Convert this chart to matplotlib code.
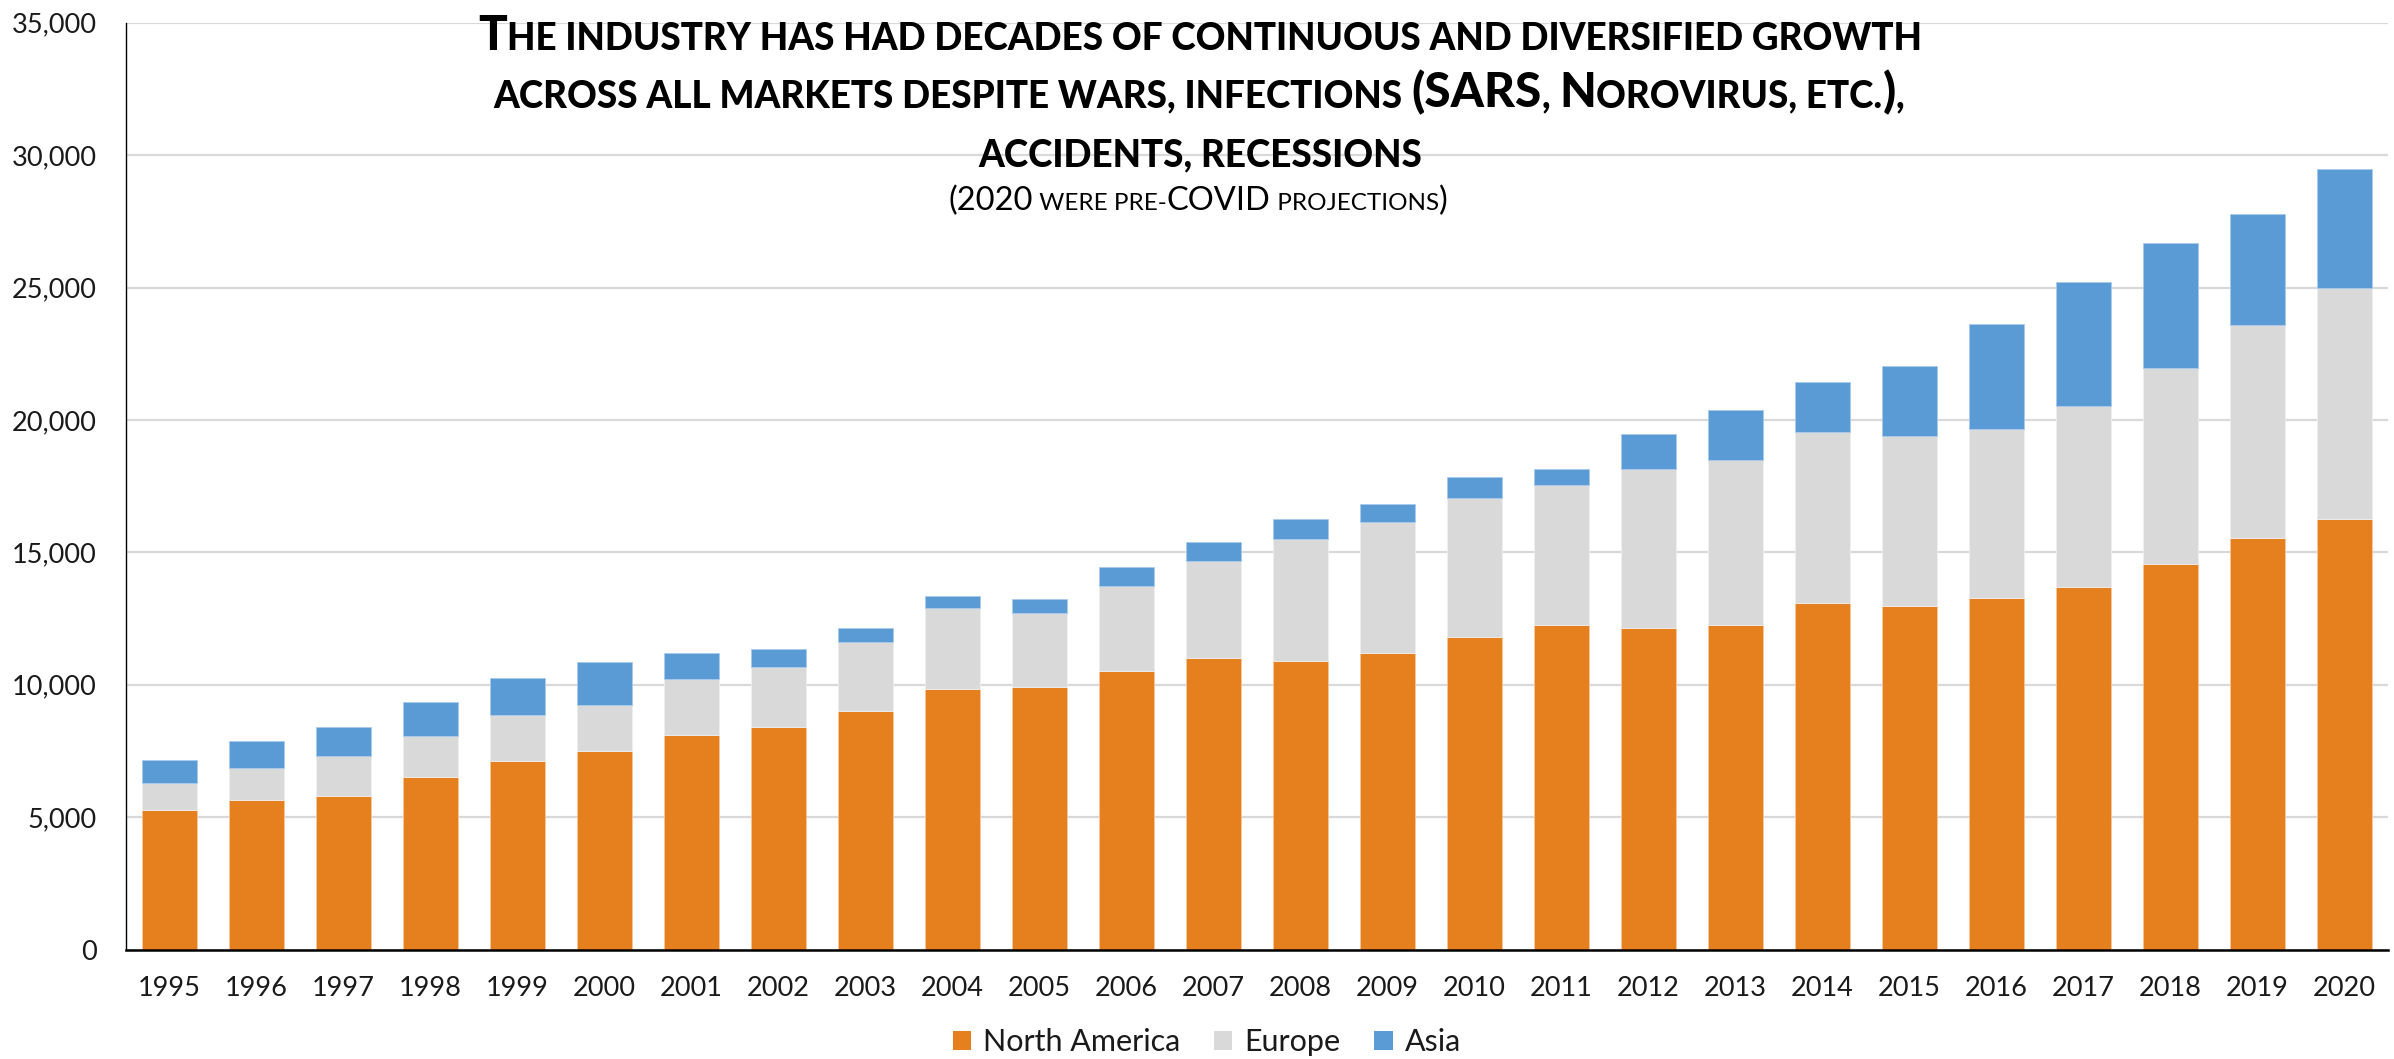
import matplotlib
matplotlib.use("Agg")
import matplotlib.pyplot as plt
from matplotlib.patches import Patch
from matplotlib.font_manager import FontProperties
from matplotlib.ticker import FuncFormatter
import numpy as np

# ---- data -------------------------------------------------------------
years = [str(y) for y in range(1995, 2021)]
north_america = [5260, 5650, 5810, 6510, 7110, 7490, 8090, 8400, 8990, 9830,
                 9910, 10520, 11010, 10900, 11180, 11790, 12250, 12160, 12250,
                 13100, 12990, 13290, 13680, 14540, 15550, 16270]
europe = [1030, 1200, 1480, 1570, 1760, 1730, 2140, 2250, 2610, 3080,
          2800, 3210, 3680, 4590, 4980, 5260, 5310, 5980, 6240,
          6430, 6420, 6380, 6840, 7420, 8020, 8710]
asia = [880, 1010, 1100, 1260, 1380, 1620, 960, 680, 540, 430,
        520, 710, 690, 780, 680, 810, 570, 1320, 1890,
        1920, 2640, 3950, 4670, 4710, 4210, 4510]
series_names = ["North America", "Europe", "Asia"]
series_colors = ["#E6801F", "#D9D9D9", "#5B9BD5"]

title_lines = [
    "The industry has had decades of continuous and diversified growth",
    "across all markets despite wars, infections (SARS, Norovirus, etc.),",
    "accidents, recessions",
]
subtitle = "(2020 were pre-COVID projections)"

# ---- figure -----------------------------------------------------------
plt.rcParams["font.family"] = ["Lato", "DejaVu Sans"]
W, H = 2394, 1059
fig = plt.figure(figsize=(W / 100, H / 100), dpi=100)
renderer = fig.canvas.get_renderer()

ax = fig.add_axes([126 / W, (H - 949.5) / H, (2388 - 126) / W, (949.5 - 22.7) / H])
x = np.arange(len(years))
bar_w = 0.625
na = np.array(north_america)
eu = np.array(europe)
asi = np.array(asia)
ax.bar(x, na, bar_w, color=series_colors[0], edgecolor="#F5C79C", linewidth=0.6, zorder=3)
ax.bar(x, eu, bar_w, bottom=na, color=series_colors[1], edgecolor="#EFEFEF", linewidth=0.6, zorder=3)
ax.bar(x, asi, bar_w, bottom=na + eu, color=series_colors[2], edgecolor="#A9CBEA", linewidth=0.6, zorder=3)

ax.set_xlim(-0.5, len(years) - 0.5)
ax.set_ylim(0, 35000)
ax.set_xticks(x)
ax.set_xticklabels(years)
ax.set_yticks(np.arange(0, 35001, 5000))
ax.yaxis.set_major_formatter(FuncFormatter(lambda v, p: f"{int(v):,}"))
ax.grid(axis="y", color="#D9D9D9", linewidth=1.6, zorder=0)
ax.set_axisbelow(True)
for side in ("top", "right"):
    ax.spines[side].set_visible(False)
ax.spines["left"].set_color("black")
ax.spines["left"].set_linewidth(1.0)
ax.spines["bottom"].set_color("black")
ax.spines["bottom"].set_linewidth(1.8)
ax.spines["bottom"].set_zorder(4)
ax.tick_params(axis="both", length=0, labelsize=19.5, colors="#1a1a1a")
ax.tick_params(axis="y", pad=21)
ax.tick_params(axis="x", pad=19)

# ---- legend -----------------------------------------------------------
handles = [Patch(facecolor=c, edgecolor="none") for c in series_colors]
fig.legend(handles, series_names, loc="center", ncol=3, frameon=False,
           bbox_to_anchor=(1207 / W, 1 - 1042 / H), fontsize=22,
           handlelength=0.6, handleheight=0.6, handletextpad=0.4,
           columnspacing=1.1, borderpad=0, labelcolor="#1a1a1a")


# ---- small-caps title -------------------------------------------------
def advance(s, fp):
    a = fig.text(0, 0, "|" + s + "|", fontproperties=fp)
    b = fig.text(0, 0, "||", fontproperties=fp)
    w = a.get_window_extent(renderer).width - b.get_window_extent(renderer).width
    a.remove()
    b.remove()
    return w


def small_caps(text, baseline_px, big_pt, small_pt, weight, cx_px=W / 2):
    runs = []
    for ch in text:
        big = ch.isupper() or ch.isdigit() or ch in "()"
        if runs and runs[-1][1] == big:
            runs[-1][0] += ch
        else:
            runs.append([ch, big])
    items, total = [], 0.0
    for s, big in runs:
        fp = FontProperties(family=["Lato", "DejaVu Sans"], weight=weight,
                            size=big_pt if big else small_pt)
        s = s.upper()
        w = advance(s, fp)
        items.append((s, fp, w))
        total += w
    xp = cx_px - total / 2
    for s, fp, w in items:
        fig.text(xp / W, 1 - baseline_px / H, s, fontproperties=fp,
                 ha="left", va="baseline", color="black", zorder=10)
        xp += w


small_caps(title_lines[0], 50, 34.3, 26.6, "black", 1200)
small_caps(title_lines[1], 107, 34.3, 26.6, "black", 1199)
small_caps(title_lines[2], 166, 34.3, 26.6, "black", 1200)
small_caps(subtitle, 210, 23.5, 17.5, "normal", 1198)

fig.savefig("out.png", dpi=100)
